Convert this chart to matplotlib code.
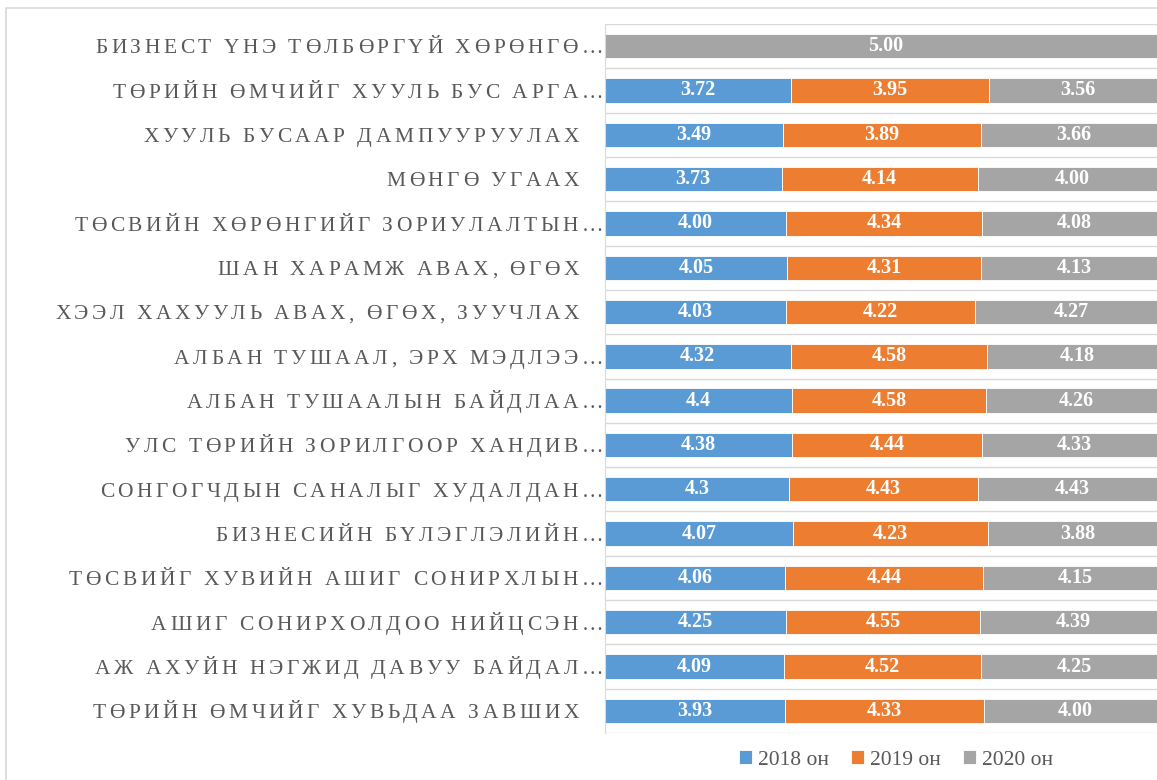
import numpy as np
import matplotlib.pyplot as plt
from matplotlib.patches import Rectangle
from matplotlib import font_manager, ft2font

# categories, top to bottom
categories = [
    "БИЗНЕСТ ҮНЭ ТӨЛБӨРГҮЙ ХӨРӨНГӨ…",
    "ТӨРИЙН ӨМЧИЙГ ХУУЛЬ БУС АРГА…",
    "ХУУЛЬ БУСААР ДАМПУУРУУЛАХ",
    "МӨНГӨ УГААХ",
    "ТӨСВИЙН ХӨРӨНГИЙГ ЗОРИУЛАЛТЫН…",
    "ШАН ХАРАМЖ АВАХ, ӨГӨХ",
    "ХЭЭЛ ХАХУУЛЬ АВАХ, ӨГӨХ, ЗУУЧЛАХ",
    "АЛБАН ТУШААЛ, ЭРХ МЭДЛЭЭ…",
    "АЛБАН ТУШААЛЫН БАЙДЛАА…",
    "УЛС ТӨРИЙН ЗОРИЛГООР ХАНДИВ…",
    "СОНГОГЧДЫН САНАЛЫГ ХУДАЛДАН…",
    "БИЗНЕСИЙН БҮЛЭГЛЭЛИЙН…",
    "ТӨСВИЙГ ХУВИЙН АШИГ СОНИРХЛЫН…",
    "АШИГ СОНИРХОЛДОО НИЙЦСЭН…",
    "АЖ АХУЙН НЭГЖИД ДАВУУ БАЙДАЛ…",
    "ТӨРИЙН ӨМЧИЙГ ХУВЬДАА ЗАВШИХ",
]
# values kept as printed in the chart (labels use the same text)
y2018 = ["0", "3.72", "3.49", "3.73", "4.00", "4.05", "4.03", "4.32",
         "4.4", "4.38", "4.3", "4.07", "4.06", "4.25", "4.09", "3.93"]
y2019 = ["0", "3.95", "3.89", "4.14", "4.34", "4.31", "4.22", "4.58",
         "4.58", "4.44", "4.43", "4.23", "4.44", "4.55", "4.52", "4.33"]
y2020 = ["5.00", "3.56", "3.66", "4.00", "4.08", "4.13", "4.27", "4.18",
         "4.26", "4.33", "4.43", "3.88", "4.15", "4.39", "4.25", "4.00"]
series = ["2018 он", "2019 он", "2020 он"]
colors = ["#5B9BD5", "#ED7D31", "#A5A5A5"]

W, H = 1157, 780
fig = plt.figure(figsize=(W / 100, H / 100), dpi=100)
fig.patches.append(Rectangle((6 / W, -0.1), 1.2, 1 - 8 / H + 0.1,
                             transform=fig.transFigure, fill=False,
                             edgecolor="#D9D9D9", lw=1.2))

ax = fig.add_axes([605 / W, 1 - 733 / H, 562 / W, (733 - 24) / H])

data = np.array([[float(v) for v in s] for s in (y2018, y2019, y2020)])
shares = data / data.sum(axis=0)
labels = [y2018, y2019, y2020]
ypos = np.arange(len(categories))
left = np.zeros(len(categories))
for i in range(3):
    ax.barh(ypos, shares[i], left=left, height=0.55, color=colors[i],
            edgecolor="white", linewidth=0.6, label=series[i])
    for j in range(len(categories)):
        if data[i, j] > 0:
            ax.text(left[j] + shares[i, j] / 2, ypos[j], labels[i][j],
                    ha="center", va="center", color="white",
                    fontsize=14.5, fontweight="bold", family="Liberation Serif")
    left += shares[i]

ax.set_xlim(0, 1)
ax.set_ylim(len(categories) - 0.5, -0.5)
ax.set_xticks([])
ax.set_yticks(ypos)
ax.set_yticklabels([])
ax.tick_params(axis="y", length=0)
ax.set_yticks(np.arange(-0.5, len(categories)), minor=True)
ax.tick_params(axis="y", which="minor", length=0)
ax.grid(axis="y", which="minor", color="#D9D9D9", lw=1)
ax.set_axisbelow(True)
for s in ["top", "right", "bottom"]:
    ax.spines[s].set_visible(False)
ax.spines["left"].set_color("#D9D9D9")

# category labels drawn letter by letter to get the wide letter spacing
lab_size = 15.5
tracking = 3.5  # px added after each letter
fp = font_manager.FontProperties(family="Liberation Serif", size=lab_size)
font = ft2font.FT2Font(font_manager.findfont(fp))
font.set_size(lab_size, 100)


def advance(ch):
    g = font.load_char(ord(ch))
    return g.linearHoriAdvance / 65536


for j, lab in enumerate(categories):
    widths = [advance(c) + tracking for c in lab]
    x_right = 603 if lab.endswith("…") else 579
    x = x_right - sum(widths) + tracking
    yc = ax.transData.transform((0, ypos[j]))[1]
    base = yc - 7.3
    for c, w in zip(lab, widths):
        if c != " ":
            fig.text(x / W, base / H, c, fontproperties=fp, color="#595959",
                     ha="left", va="baseline")
        x += w

leg = fig.legend(loc="center", bbox_to_anchor=(896 / W, 1 - 760 / H),
                 ncol=3, frameon=False, handlelength=0.6, handleheight=0.6,
                 handletextpad=0.3, columnspacing=1.0,
                 prop={"family": "Liberation Serif", "size": 15.5})
for t in leg.get_texts():
    t.set_color("#595959")

fig.savefig("out.png", dpi=100)
